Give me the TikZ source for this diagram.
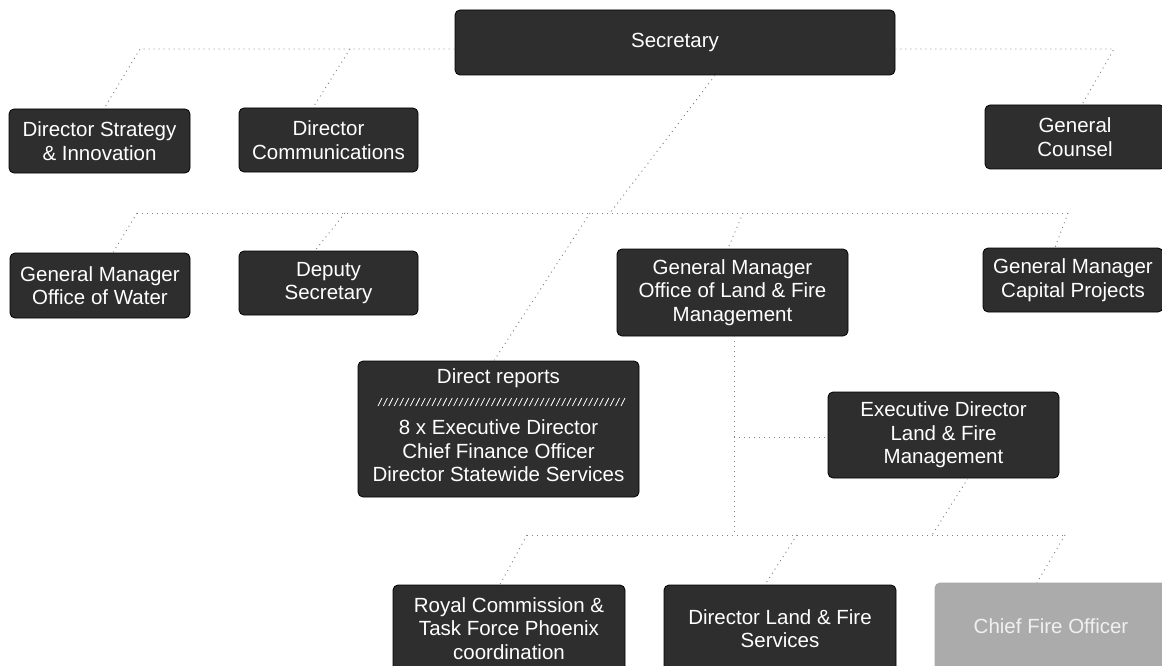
\documentclass[tikz,border=0pt]{standalone}
\usepackage{fontspec}
\setmainfont{Liberation Sans}
\usetikzlibrary{calc}
\begin{document}
\begin{tikzpicture}[x=1pt,y=-1pt,
  box/.style={draw=black, line width=0.8pt, fill=black!82, text=white, rounded corners=5pt,
    inner sep=0pt, align=center, font=\fontsize{20.5}{23.5}\selectfont},
  lightbox/.style={box, draw=black!35, fill=black!33, text=black!6},
  lbl/.style={text=white, inner sep=0pt, align=center, font=\fontsize{20.5}{23.5}\selectfont},
  conn/.style={draw=black!50, dash pattern=on 1pt off 4pt, line width=0.9pt}]
\useasboundingbox (0,0) rectangle (1162,666);
\clip (0,0) rectangle (1162,666);

% nodes
\node[box, minimum width=440pt, minimum height=65pt] (sec) at (675,42.5) {Secretary};
\node[box, minimum width=181pt, minimum height=64pt] (dsi) at (99.5,141) {Director Strategy\\\& Innovation};
\node[box, minimum width=179pt, minimum height=64pt] (dcom) at (328.5,140) {Director\\Communications};
\node[box, minimum width=180pt, minimum height=64pt] (gc) at (1075,137) {General\\Counsel};
\node[box, minimum width=180pt, minimum height=65pt] (gmw) at (100,285.5) {General Manager\\Office of Water};
\node[box, minimum width=179pt, minimum height=64pt] (dep) at (328.5,283) {Deputy\\Secretary};
\node[box, minimum width=231pt, minimum height=87pt] (gmlf) at (732.5,292.5) {General Manager\\Office of Land \& Fire\\Management};
\node[box, minimum width=180pt, minimum height=64pt] (gmcp) at (1073,280) {General Manager\\Capital Projects};
\node[box, minimum width=281pt, minimum height=136pt] (dr) at (498.5,429) {};
\node[lbl] (drh) at (498.5,378) {Direct reports};
\node[lbl] (drl) at (498.5,451) {8 x Executive Director\\Chief Finance Officer\\Director Statewide Services};
\node[box, minimum width=231pt, minimum height=86pt] (ed) at (943.5,435) {Executive Director\\Land \& Fire\\Management};
\node[box, minimum width=232pt, minimum height=87pt] (rc) at (509,628.5) {Royal Commission \&\\Task Force Phoenix\\coordination};
\node[box, minimum width=232pt, minimum height=87pt] (dlfs) at (780,628.5) {Director Land \& Fire\\Services};
\node[lightbox, minimum width=232pt, minimum height=87pt] (cfo) at (1051,626.5) {Chief Fire Officer};

% hatch row in direct reports
\foreach \i in {0,...,45} {
  \draw[white, line width=0.8pt] ({378+\i*5.4},406) -- ({382+\i*5.4},398);
}

% bus coordinates
\coordinate (t1) at (140,49);
\coordinate (t2) at (350,49);
\coordinate (t3) at (1114,49);
\coordinate (m0) at (610,213);
\coordinate (m1) at (137,213);
\coordinate (m2) at (345,213);
\coordinate (m3) at (590,213);
\coordinate (m4) at (743,213);
\coordinate (m5) at (1068,213);
\coordinate (lf1) at (734,437);
\coordinate (lf2) at (734,535);
\coordinate (b0) at (932,535);
\coordinate (b1) at (527,535);
\coordinate (b2) at (797,535);
\coordinate (b3) at (1065,535);

% top level
\draw[conn] (sec.west |- t1) -- (t1) -- ([xshift=4.5pt]dsi.north);
\draw[conn] (t2) -- ([xshift=-15.5pt]dcom.north);
\draw[conn] (sec.east |- t3) -- (t3) -- ([xshift=7pt]gc.north);
\draw[conn] ([xshift=40pt]sec.south) -- (m0);
% second level
\draw[conn] (m1) -- (m5);
\draw[conn] (m1) -- ([xshift=13pt]gmw.north);
\draw[conn] (m2) -- ([xshift=-13.5pt]dep.north);
\draw[conn] (m3) -- ([xshift=-4.5pt]dr.north);
\draw[conn] (m4) -- ([xshift=-4.5pt]gmlf.north);
\draw[conn] (m5) -- ([xshift=-18pt]gmcp.north);
% land & fire
\draw[conn] ([xshift=1.5pt]gmlf.south) -- (lf2);
\draw[conn] (lf1) -- (ed.west |- lf1);
\draw[conn] ([xshift=24.5pt]ed.south) -- (b0);
\draw[conn] (b1) -- (b3);
\draw[conn] (b1) -- ([xshift=-9pt]rc.north);
\draw[conn] (b2) -- ([xshift=-15pt]dlfs.north);
\draw[conn] (b3) -- ([xshift=-14pt]cfo.north);
\end{tikzpicture}
\end{document}
